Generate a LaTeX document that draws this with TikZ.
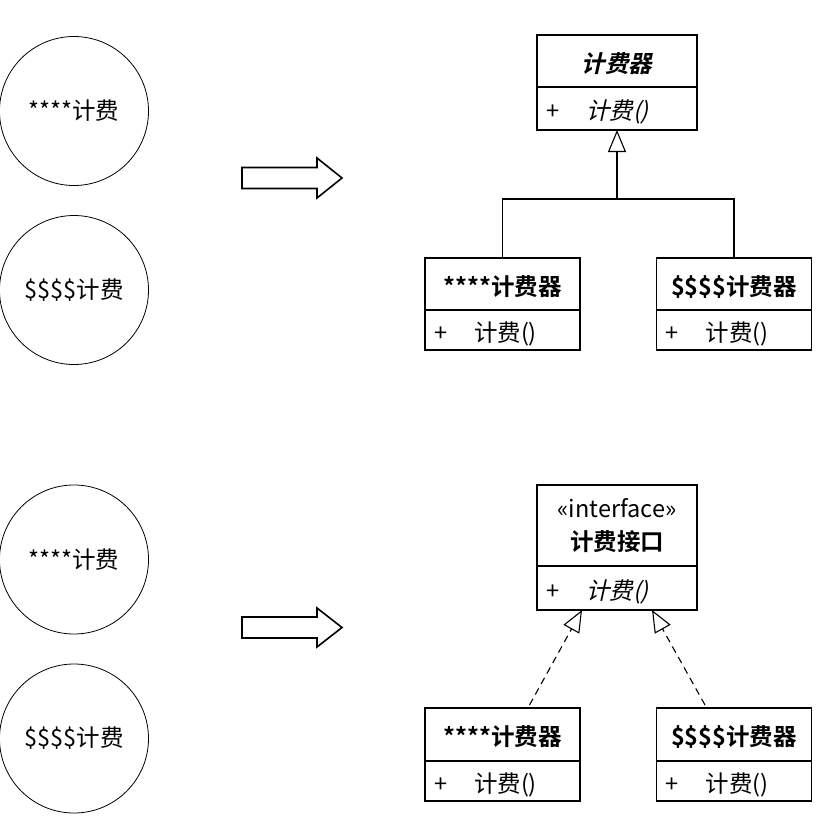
\documentclass[tikz,border=0pt]{standalone}
\usepackage{fontspec}
\setmainfont{Noto Sans CJK SC}[BoldFont={Noto Sans CJK SC Bold},
  ItalicFont={Noto Sans CJK SC}, ItalicFeatures={FakeSlant=0.22},
  BoldItalicFont={Noto Sans CJK SC Bold}, BoldItalicFeatures={FakeSlant=0.22}]
\usetikzlibrary{arrows.meta,positioning,calc}

\begin{document}
\begin{tikzpicture}[x=1pt,y=-1pt,line width=1.1pt]
  \tikzset{
  txt/.style = {font=\fontsize{23.5}{33}\selectfont},
  oneline/.style = {text height=24.5pt, text depth=2pt},
  usecase/.style = {circle, draw, line width=0.8pt, minimum size=149pt, inner sep=0pt, txt},% use case
  clshead/.style = {rectangle, draw, inner sep=0pt, outer sep=0pt, align=center,
    minimum width=155pt, minimum height=52pt, txt},% class name
  clsop/.style = {rectangle, draw, inner xsep=9pt, inner ysep=0pt, outer sep=0pt,
    text width=137pt, minimum height=40pt, align=left, txt, oneline},% class operation
  wide/.style = {minimum width=160pt, text width=142pt},
  inherit/.style = {-{Triangle[open,length=22pt,width=18pt,fill=white]}},
  realize/.style = {inherit, dash pattern=on 7pt off 5pt},
  bigarrow/.style = {draw, line width=1.6pt, line join=miter}
}
\useasboundingbox (0,0) rectangle (827,828);

% before
\node [usecase] (u1) at (74,111) {****计费};
\node [usecase] (u2) at (74,290) {\$\$\$\$计费};
\node [usecase] (u3) at (74,559.5) {****计费};
\node [usecase] (u4) at (74,738.5) {\$\$\$\$计费};

\draw [bigarrow] (242,167.5) -- (317,167.5) -- (317,158) -- (342,178) -- (317,198)
  -- (317,188.5) -- (242,188.5) -- cycle;
\draw [bigarrow] (242,617) -- (317,617) -- (317,608) -- (342,627.5) -- (317,647)
  -- (317,638) -- (242,638) -- cycle;

% abstract class
\node [clshead, wide, oneline] (abs) at (617,61) {\textbf{\textit{计费器}}};
\node [clsop, wide, minimum height=43pt, below=0pt of abs] (absop)
  {+\hspace{27pt}\textit{计费()}};
\node [clshead, oneline] (c1) at (502.5,284) {\textbf{****计费器}};
\node [clsop, below=0pt of c1] (c1op) {+\hspace{27pt}计费()};
\node [clshead, oneline] (c2) at (734,284) {\textbf{\$\$\$\$计费器}};
\node [clsop, below=0pt of c2] (c2op) {+\hspace{27pt}计费()};

\coordinate (jn) at (617,199);
\draw [inherit] (c1.north) |- (jn) -- (absop.south);
\draw (c2.north) |- (jn);

% interface
\node [clshead, wide, minimum height=81pt] (iface) at (617,525.5)
  {«interface»\\\textbf{计费接口}};
\node [clsop, wide, minimum height=44pt, below=0pt of iface] (ifaceop)
  {+\hspace{27pt}\textit{计费()}};
\node [clshead, oneline, minimum height=53pt] (ic1) at (502.5,734.5) {\textbf{****计费器}};
\node [clsop, below=0pt of ic1] (ic1op) {+\hspace{27pt}计费()};
\node [clshead, oneline, minimum height=53pt] (ic2) at (734,734.5) {\textbf{\$\$\$\$计费器}};
\node [clsop, below=0pt of ic2] (ic2op) {+\hspace{27pt}计费()};

\draw [realize] ([shift={(27,-3)}]ic1.north) -- ([xshift=-35pt]ifaceop.south);
\draw [realize] ([shift={(-29,-3)}]ic2.north) -- ([xshift=35pt]ifaceop.south);
\end{tikzpicture}
\end{document}
